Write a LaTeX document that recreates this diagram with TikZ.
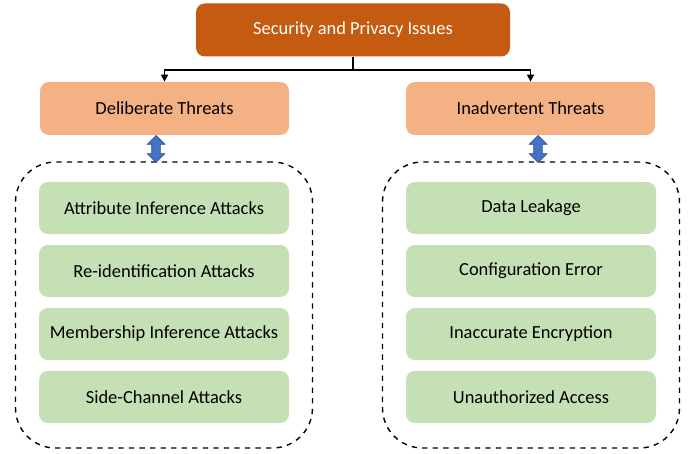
\documentclass[tikz,border=0pt]{standalone}
\usepackage{fontspec}
\setmainfont{Carlito}
\usetikzlibrary{arrows.meta,shapes.arrows}

\definecolor{rootorange}{HTML}{C55A11}
\definecolor{threatpeach}{HTML}{F4B183}
\definecolor{itemgreen}{HTML}{C5E0B4}
\definecolor{linkblue}{HTML}{4472C4}
\definecolor{linkborder}{HTML}{2F528F}

\tikzset{
	rootbox/.style={fill=rootorange, text=white, rounded corners=5pt, minimum width=6.28cm, minimum height=1.06cm},
	threatbox/.style={fill=threatpeach, rounded corners=5pt, minimum width=4.98cm, minimum height=1.06cm},
	itembox/.style={fill=itemgreen, rounded corners=5pt, minimum width=5cm, minimum height=1.04cm},
	groupbox/.style={draw, dashed, line width=0.8pt, rounded corners=0.8cm, minimum width=5.94cm, minimum height=5.72cm},
	updown/.style={double arrow, fill=linkblue, draw=linkborder, line width=0.4pt, rotate=90, inner sep=0.08cm, minimum height=0.54cm, double arrow head extend=0.09cm, double arrow head indent=0cm},
	tree/.style={line width=0.8pt, -{Triangle[length=4pt,width=4pt]}}
}

\begin{document}
\begin{tikzpicture}[font=\fontsize{10.5}{12}\selectfont]
				\useasboundingbox (0, 0) rectangle (13.86, 9.06);

				\node (Root) [rootbox] at (7.06, 8.46) {Security and Privacy Issues};

				\node (Deliberate) [threatbox] at (3.29, 6.89) {Deliberate Threats};
				\node (Inadvertent) [threatbox] at (10.61, 6.89) {Inadvertent Threats};

				\coordinate (Split) at (7.06, 7.66);
				\draw [line width=0.8pt] (Root.south) -- (Split);
				\draw [tree] (Split) -| (Deliberate.north);
				\draw [tree] (Split) -| (Inadvertent.north);

				% dashed groups
				\node (DeliberateGroup) [groupbox] at (3.28, 2.96) {};
				\node (InadvertentGroup) [groupbox] at (10.62, 2.96) {};

				\node (DeliberateLink) [updown] at (3.12, 6.08) {};
				\node (InadvertentLink) [updown] at (10.76, 6.08) {};

				% deliberate threats
				\node (AttrInf) [itembox] at (3.28, 4.90) {Attribute Inference Attacks};
				\node (ReId) [itembox] at (3.28, 3.64) {Re-identification Attacks};
				\node (MemInf) [itembox] at (3.28, 2.38) {Membership Inference Attacks};
				\node (SideChan) [itembox] at (3.28, 1.12) {Side-Channel Attacks};

				% inadvertent threats
				\node (Leakage) [itembox] at (10.62, 4.90) {Data Leakage};
				\node (ConfErr) [itembox] at (10.62, 3.64) {Configuration Error};
				\node (Encrypt) [itembox] at (10.62, 2.38) {Inaccurate Encryption};
				\node (Unauth) [itembox] at (10.62, 1.12) {Unauthorized Access};
			\end{tikzpicture}
\end{document}
